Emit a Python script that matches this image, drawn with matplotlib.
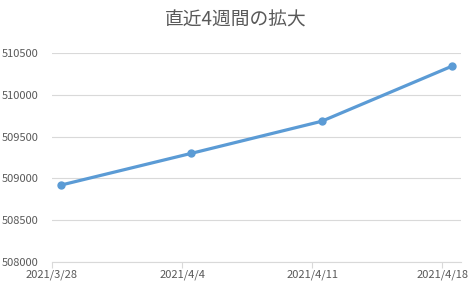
import matplotlib
matplotlib.use("Agg")
import matplotlib.pyplot as plt
import matplotlib.dates as mdates
from datetime import datetime

plt.rcParams['font.family'] = ['Noto Sans CJK JP', 'DejaVu Sans']

title = "直近4週間の拡大"
dates = ["2021/3/28", "2021/4/4", "2021/4/11", "2021/4/18"]
values = [508921, 509300, 509683, 510341]
yticks = [508000, 508500, 509000, 509500, 510000, 510500]

d = [datetime.strptime(s, "%Y/%m/%d") for s in dates]
xpos = [mdates.date2num(x) + 0.5 for x in d]  # Excel centers points within the day

W, H = 473, 289
fig = plt.figure(figsize=(W / 100, H / 100), dpi=100)
ax = fig.add_axes([52 / W, 1 - 262 / H, (461 - 52) / W, (262 - 53) / H])

ax.plot(xpos, values, color='#5B9BD5', lw=2.3, marker='o', ms=5,
        solid_capstyle='round', zorder=3)

ax.set_xlim(mdates.date2num(d[0]), mdates.date2num(d[-1]) + 1)
ax.set_ylim(508000, 510500)
ax.set_yticks(yticks)
ax.set_yticklabels([str(v) for v in yticks])
ax.set_xticks([mdates.date2num(x) for x in d])
ax.set_xticklabels(dates)

ax.grid(axis='y', color='#D9D9D9', lw=0.8)
ax.set_axisbelow(True)
for s in ['left', 'right', 'top']:
    ax.spines[s].set_visible(False)
ax.spines['bottom'].set_color('#D9D9D9')
ax.spines['bottom'].set_linewidth(0.8)
ax.tick_params(axis='y', length=0, pad=9.5, labelsize=8, labelcolor='#595959')
ax.tick_params(axis='x', length=4, width=0.8, color='#D9D9D9', pad=1.5,
               labelsize=8, labelcolor='#595959')

fig.text(235.5 / W, 1 - 20 / H, title, ha='center', va='center',
         fontsize=13.5, color='#595959')

fig.savefig("out.png", dpi=100)
